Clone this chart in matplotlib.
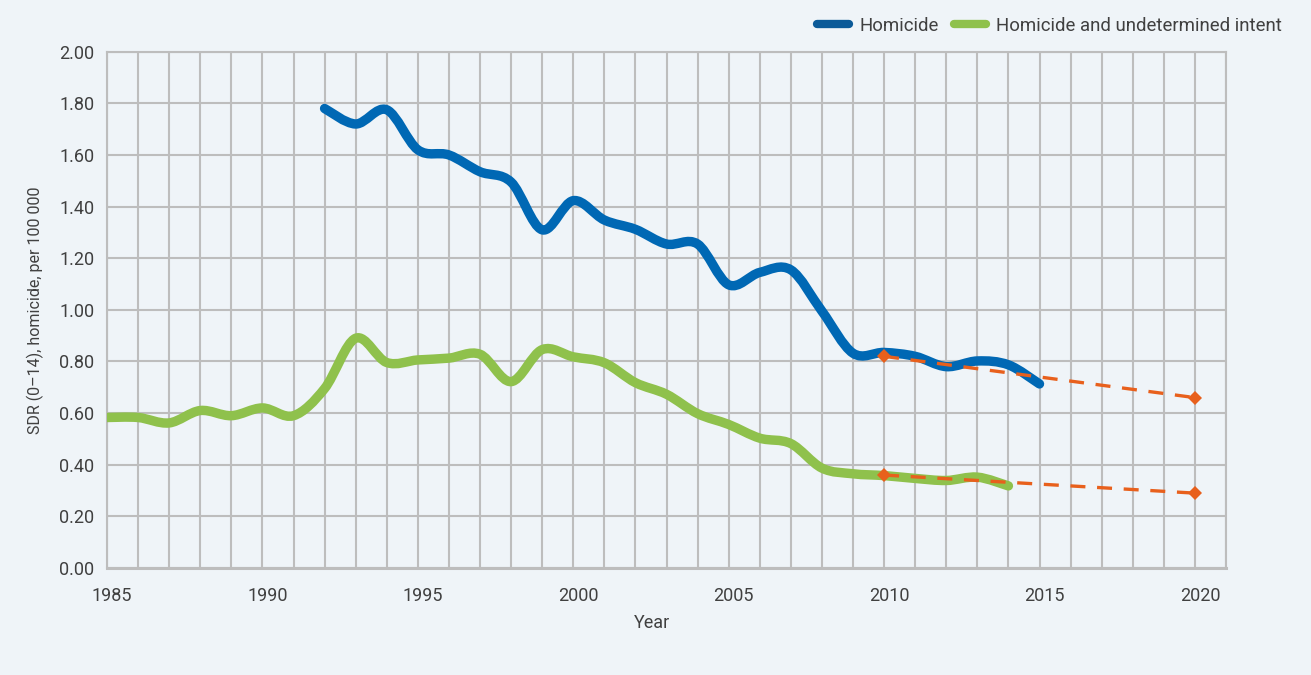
import matplotlib
matplotlib.use("Agg")
import matplotlib.pyplot as plt
import matplotlib.transforms as mtransforms
from matplotlib.path import Path
from matplotlib.patches import PathPatch
from matplotlib.lines import Line2D
from matplotlib.ticker import FormatStrFormatter, MultipleLocator

# ---- data ----
years_h = list(range(1992, 2016))
homicide = [1.78, 1.72, 1.775, 1.62, 1.60, 1.535, 1.495, 1.31, 1.423, 1.348, 1.312, 1.255,
            1.255, 1.097, 1.145, 1.155, 0.995, 0.832, 0.835, 0.82, 0.78, 0.802, 0.787, 0.713]
years_u = list(range(1985, 2015))
undetermined = [0.583, 0.583, 0.562, 0.61, 0.59, 0.62, 0.59, 0.695, 0.89, 0.796, 0.806, 0.813,
                0.828, 0.722, 0.846, 0.818, 0.795, 0.718, 0.673, 0.598, 0.556, 0.503, 0.482,
                0.387, 0.365, 0.358, 0.347, 0.339, 0.352, 0.318]
target_years = [2010, 2020]
target_h = [0.82, 0.66]
target_u = [0.36, 0.29]
labels = ["Homicide", "Homicide and undetermined intent"]

BG = "#eff4f8"
BLUE = "#0068b4"
BLUE_LEG = "#0b5a98"
GREEN = "#8fc14c"
ORANGE = "#e8601c"
GRID = "#bdbdbd"
TXT = "#404040"

plt.rcParams['font.family'] = ['Roboto', 'DejaVu Sans']


def smooth_path(xs, ys):
    verts = [(xs[0], ys[0])]
    codes = [Path.MOVETO]
    n = len(xs)
    for i in range(n - 1):
        x0, y0 = (xs[i - 1], ys[i - 1]) if i > 0 else (xs[i], ys[i])
        x1, y1 = xs[i], ys[i]
        x2, y2 = xs[i + 1], ys[i + 1]
        x3, y3 = (xs[i + 2], ys[i + 2]) if i + 2 < n else (xs[i + 1], ys[i + 1])
        c1 = (x1 + (x2 - x0) / 6.0, y1 + (y2 - y0) / 6.0)
        c2 = (x2 - (x3 - x1) / 6.0, y2 - (y3 - y1) / 6.0)
        verts += [c1, c2, (x2, y2)]
        codes += [Path.CURVE4] * 3
    return Path(verts, codes)


fig = plt.figure(figsize=(13.11, 6.75), dpi=100, facecolor=BG)
ax = fig.add_axes([107 / 1311, 1 - 568 / 675, (1226 - 107) / 1311, (568 - 51.7) / 675])
ax.set_facecolor(BG)

ax.set_xlim(1985, 2021)
ax.set_ylim(0, 2.0)
ax.xaxis.set_minor_locator(MultipleLocator(1))
ax.set_xticks([1985, 1990, 1995, 2000, 2005, 2010, 2015, 2020])
ax.yaxis.set_major_locator(MultipleLocator(0.2))
ax.yaxis.set_major_formatter(FormatStrFormatter('%.2f'))
ax.grid(True, which='both', axis='x', color=GRID, lw=1.5, zorder=0)
ax.grid(True, which='major', axis='y', color=GRID, lw=1.5, zorder=0)
for s in ax.spines.values():
    s.set_color(GRID)
    s.set_linewidth(1.5)
ax.spines['bottom'].set_linewidth(2.2)
ax.tick_params(which='both', length=0, colors=TXT, labelsize=13)
ax.tick_params(axis='x', pad=14)
ax.tick_params(axis='y', pad=9)

shift = mtransforms.ScaledTranslation(5 / 100, 0, fig.dpi_scale_trans)
for lab in ax.get_xticklabels():
    lab.set_transform(lab.get_transform() + shift)

ax.add_patch(PathPatch(smooth_path(years_u, undetermined), fill=False, edgecolor=GREEN,
                       lw=6.8, capstyle='round', joinstyle='round', zorder=3))
ax.add_patch(PathPatch(smooth_path(years_h, homicide), fill=False, edgecolor=BLUE,
                       lw=6.8, capstyle='round', joinstyle='round', zorder=4))

for ty in (target_h, target_u):
    ax.plot(target_years, ty, color=ORANGE, lw=2.4, ls=(0, (4.5, 3.5)), marker='D',
            markersize=7, markeredgewidth=0, zorder=5)

ax.set_xlabel("Year", fontsize=13, color=TXT, labelpad=6)
ax.xaxis.set_label_coords(0.487, -0.09)
ax.set_ylabel("SDR (0\u201314), homicide, per 100 000", fontsize=11.5, color=TXT)
ax.yaxis.set_label_coords(-0.056, 0.5)

handles = [Line2D([], [], color=BLUE_LEG, lw=6, solid_capstyle='round'),
           Line2D([], [], color=GREEN, lw=6, solid_capstyle='round')]
fig.legend(handles, labels, loc='center right', bbox_to_anchor=(1299 / 1311, 1 - 26 / 675),
           ncol=2, frameon=False, fontsize=13.4, handlelength=1.7, handletextpad=0.55,
           columnspacing=0.85, labelcolor=TXT)

fig.savefig("out.png", dpi=100, facecolor=BG)
